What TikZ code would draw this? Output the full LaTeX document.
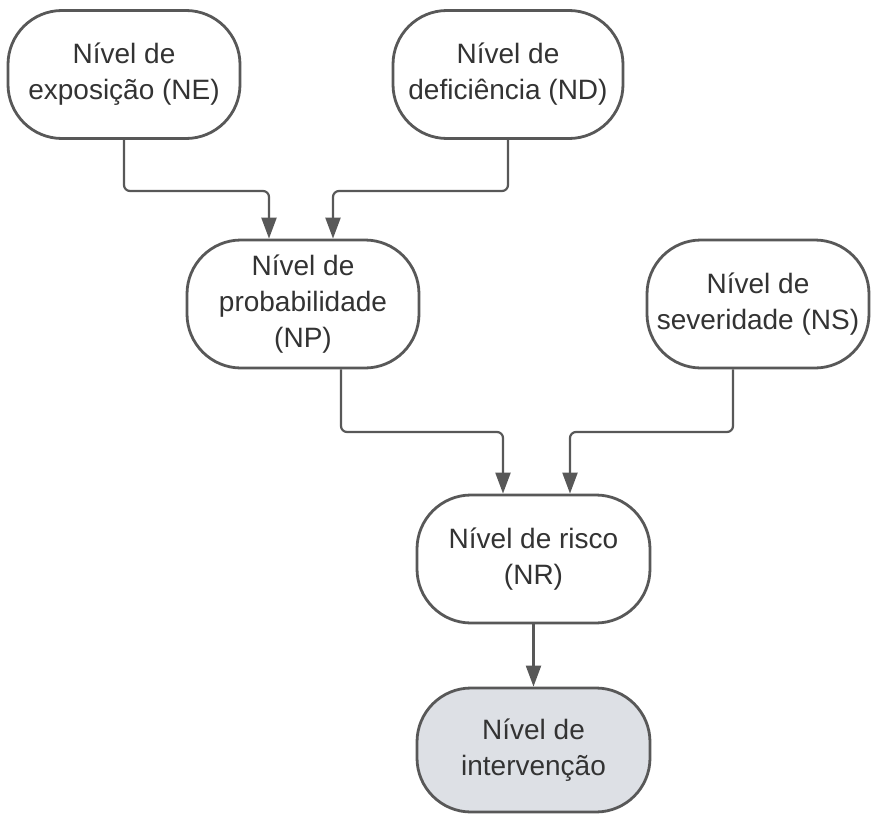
\documentclass[tikz,border=0pt]{standalone}
\usepackage{fontspec}
\setmainfont{Liberation Sans}
\usetikzlibrary{arrows.meta}
\definecolor{edge}{HTML}{585858}
\definecolor{txt}{HTML}{333333}
\definecolor{final}{HTML}{DDE0E5}
\begin{document}
\begin{tikzpicture}[x=1pt,y=-1pt,
  level/.style={draw=edge, line width=2.8pt, rounded corners=54pt, fill=white,
    minimum height=128pt, align=center, text=txt,
    font=\fontsize{28}{36}\selectfont, inner sep=2pt},
  link/.style={draw=edge, line width=2.2pt, rounded corners=6pt,
    -{Triangle[length=21pt,width=15pt]}}]
  \useasboundingbox (0,0) rectangle (872,816);

  % levels
  \node[level, minimum width=232pt] (NE) at (124,74.5) {Nível de\\exposição (NE)};
  \node[level, minimum width=230pt] (ND) at (508,74.5) {Nível de\\deficiência (ND)};
  \node[level, minimum width=232pt] (NP) at (303,304) {Nível de\\probabilidade\\(NP)};
  \node[level, minimum width=222pt] (NS) at (758,304) {Nível de\\severidade (NS)};
  \node[level, minimum width=233pt] (NR) at (533.5,559) {Nível de risco\\(NR)};
  \node[level, minimum width=233pt, minimum height=124pt, fill=final] (NI) at (533.5,750) {Nível de\\intervenção};

  % elbow heights
  \coordinate (r1) at (0,191);
  \coordinate (r2) at (0,432);

  % connectors
  \draw[link] (NE.south) -- (NE.south |- r1) -| ([xshift=-34pt]NP.north);
  \draw[link] (ND.south) -- (ND.south |- r1) -| ([xshift=30pt]NP.north);
  \draw[link] ([xshift=38pt]NP.south) -- ([xshift=38pt]NP.south |- r2) -| ([xshift=-30.5pt]NR.north);
  \draw[link] ([xshift=-25pt]NS.south) -- ([xshift=-25pt]NS.south |- r2) -| ([xshift=36.5pt]NR.north);
  \draw[link] (NR.south) -- (NI.north);
\end{tikzpicture}
\end{document}
